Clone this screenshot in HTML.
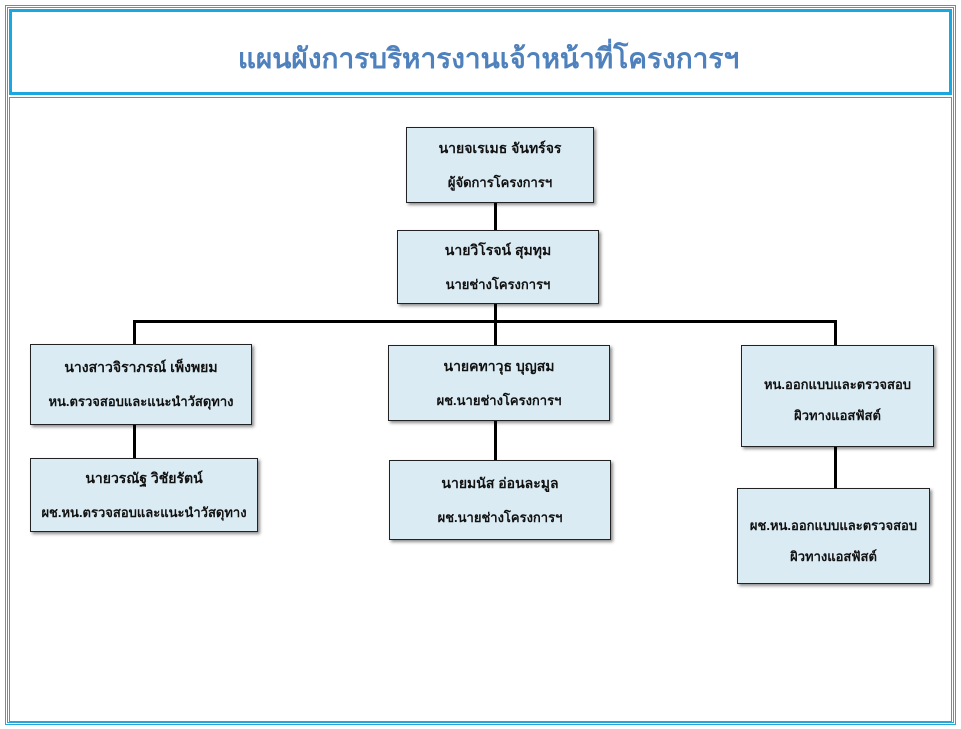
<!DOCTYPE html>
<html><head><meta charset="utf-8"><style>
body{margin:0;width:961px;height:729px;background:#fff;position:relative;overflow:hidden;font-family:"Liberation Sans","DejaVu Sans",sans-serif}
.a{position:absolute;box-sizing:border-box}
.box{position:absolute;box-sizing:border-box;background:#daebf3;border:1px solid #222;box-shadow:2px 2px 3px rgba(0,0,0,.45);text-align:center;font-weight:bold;font-size:14px;color:#111;display:flex;flex-direction:column;justify-content:center;gap:12px}
.l{position:absolute;background:#000}
</style></head><body>
<div class="a" style="left:5px;top:5px;width:951px;height:720px;border:1px solid #29a6d8"></div>
<div class="a" style="left:7px;top:7px;width:947px;height:716px;border:1px solid #29a6d8"></div>
<div class="a" style="left:9px;top:9px;width:943px;height:86px;border:3px solid #1aa7df"></div>
<div class="a" style="left:9px;top:97px;width:943px;height:1px;background:#29a6d8"></div>
<div class="a" style="left:9px;top:98px;width:1px;height:624px;background:#29a6d8"></div>
<div class="a" style="left:951px;top:98px;width:1px;height:624px;background:#29a6d8"></div>
<div class="a" style="left:9px;top:721px;width:943px;height:1px;background:#29a6d8"></div>
<div class="a" style="left:17px;top:37px;width:943px;text-align:center;font-size:28px;font-weight:bold;color:#4f81bd">แผนผังการบริหารงานเจ้าหน้าที่โครงการฯ</div>

<div class="l" style="left:494px;top:203px;width:3px;height:27px"></div>
<div class="l" style="left:494px;top:304px;width:3px;height:18px"></div>
<div class="l" style="left:133px;top:320px;width:704px;height:3px"></div>
<div class="l" style="left:133px;top:320px;width:3px;height:25px"></div>
<div class="l" style="left:494px;top:320px;width:3px;height:26px"></div>
<div class="l" style="left:834px;top:320px;width:3px;height:26px"></div>
<div class="l" style="left:133px;top:425px;width:3px;height:34px"></div>
<div class="l" style="left:494px;top:421px;width:3px;height:40px"></div>
<div class="l" style="left:834px;top:447px;width:3px;height:42px"></div>

<div class="box" style="left:406px;top:127px;width:188px;height:76px"><div>นายจเรเมธ จันทร์จร</div><div style="font-size:13px">ผู้จัดการโครงการฯ</div></div>
<div class="box" style="left:397px;top:230px;width:202px;height:74px"><div>นายวิโรจน์ สุมทุม</div><div style="font-size:13px">นายช่างโครงการฯ</div></div>
<div class="box" style="left:30px;top:344px;width:222px;height:81px"><div>นางสาวจิราภรณ์ เพ็งพยม</div><div style="font-size:13px">หน.ตรวจสอบและแนะนำวัสดุทาง</div></div>
<div class="box" style="left:388px;top:345px;width:222px;height:76px"><div>นายคทาวุธ บุญสม</div><div style="font-size:13px">ผช.นายช่างโครงการฯ</div></div>
<div class="box" style="left:741px;top:345px;width:193px;height:102px;padding-top:8px"><div style="font-size:13px">หน.ออกแบบและตรวจสอบ</div><div style="font-size:13px;margin-top:-2px">ผิวทางแอสฟัสต์</div></div>
<div class="box" style="left:30px;top:458px;width:228px;height:74px"><div>นายวรณัฐ วิชัยรัตน์</div><div style="font-size:13px">ผช.หน.ตรวจสอบและแนะนำวัสดุทาง</div></div>
<div class="box" style="left:389px;top:460px;width:222px;height:80px"><div>นายมนัส อ่อนละมูล</div><div style="font-size:13px">ผช.นายช่างโครงการฯ</div></div>
<div class="box" style="left:737px;top:488px;width:193px;height:96px;padding-top:10px"><div style="font-size:13px">ผช.หน.ออกแบบและตรวจสอบ</div><div style="font-size:13px;margin-top:-2px">ผิวทางแอสฟัสต์</div></div>
</body></html>
